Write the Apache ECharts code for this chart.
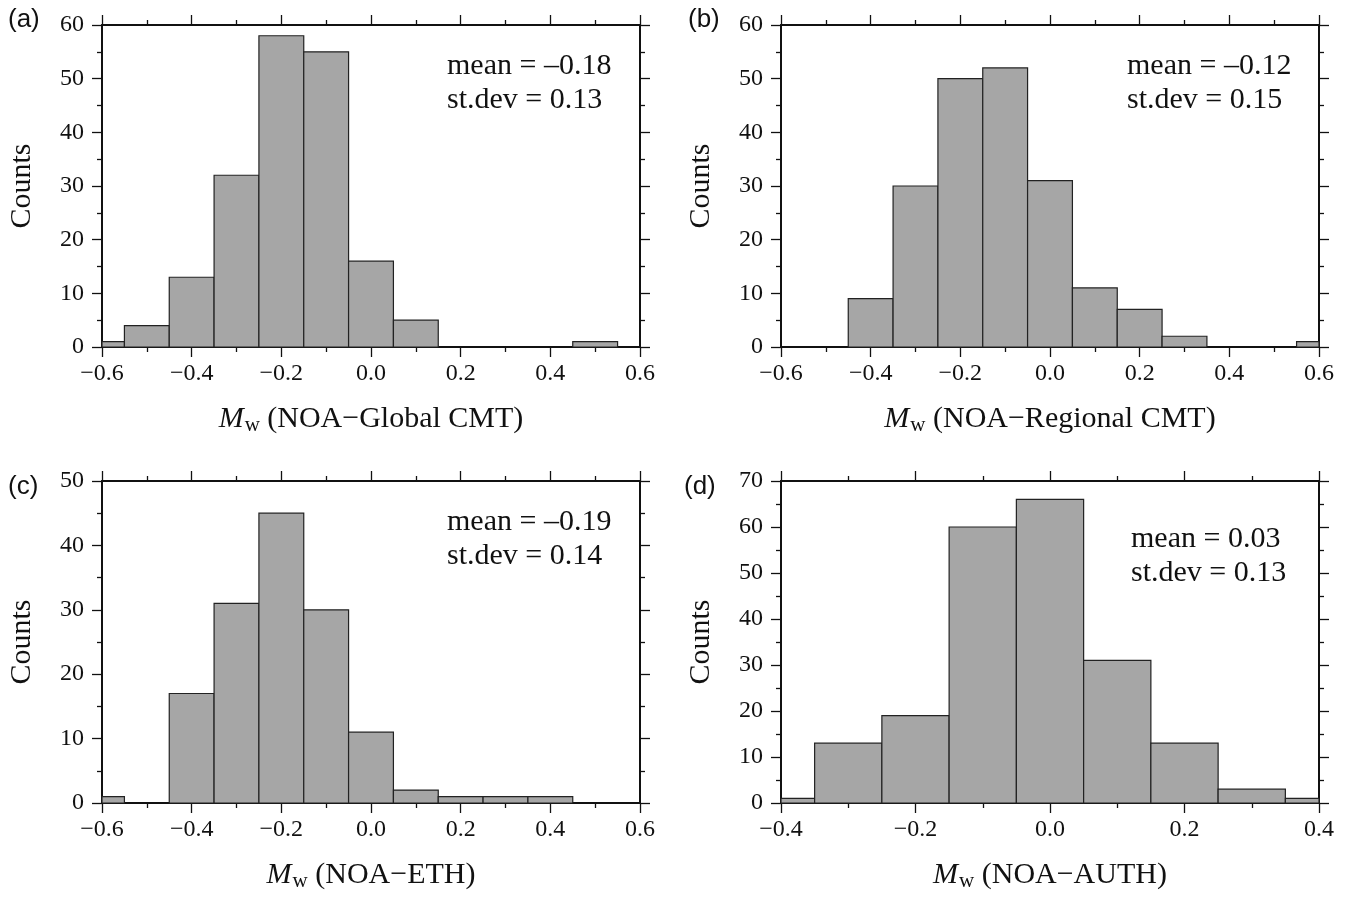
<!DOCTYPE html>
<html>
<head>
<meta charset="utf-8">
<script src="https://cdn.jsdelivr.net/npm/echarts@6/dist/echarts.min.js"></script>
<style>
html,body{margin:0;padding:0;background:#fff;}
#chart{width:1364px;height:905px;}
</style>
</head>
<body>
<div id="chart"></div>
<script>
// ---- data ----
const binsABC = [-0.6, -0.5, -0.4, -0.3, -0.2, -0.1, 0.0, 0.1, 0.2, 0.3, 0.4, 0.5, 0.6];
const countsA = [1, 4, 13, 32, 58, 55, 16, 5, 0, 0, 0, 1, 0];
const countsB = [0, 0, 9, 30, 50, 52, 31, 11, 7, 2, 0, 0, 1];
const countsC = [1, 0, 17, 31, 45, 30, 11, 2, 1, 1, 1, 0, 0];
const binsD = [-0.4, -0.3, -0.2, -0.1, 0.0, 0.1, 0.2, 0.3, 0.4];
const countsD = [1, 13, 19, 60, 66, 31, 13, 3, 1];
const binWidth = 0.1;

const panelLabels = ['(a)', '(b)', '(c)', '(d)'];
const xNames = ['NOA−Global CMT', 'NOA−Regional CMT', 'NOA−ETH', 'NOA−AUTH'];
const meanTexts = ['mean = –0.18', 'mean = –0.12', 'mean = –0.19', 'mean = 0.03'];
const sdTexts = ['st.dev = 0.13', 'st.dev = 0.15', 'st.dev = 0.14', 'st.dev = 0.13'];
const xMin = [-0.6, -0.6, -0.6, -0.4];
const xMax = [0.6, 0.6, 0.6, 0.4];
const xInterval = 0.2;
const yMax = [60, 60, 50, 70];
const yInterval = 10;
const yLabel = 'Counts';

const binsList = [binsABC, binsABC, binsABC, binsD];
const countsList = [countsA, countsB, countsC, countsD];

// ---- layout ----
const grids = [
  {left: 102, top: 25, width: 538, height: 322},
  {left: 781, top: 25, width: 538, height: 322},
  {left: 102, top: 481, width: 538, height: 322},
  {left: 781, top: 481, width: 538, height: 322}
];
const panelLabelPos = [[8, 22], [688, 22], [8, 489], [684, 489]];
const annoPos = [[447, 68], [1127, 68], [447, 524], [1131, 541]];

const SERIF = '"Liberation Serif", "DejaVu Serif", serif';
const SANS = '"Liberation Sans", Arial, sans-serif';
const TXT = '#111';

function fmtX(v) {
  if (Math.abs(v) < 1e-9) return '0.0';
  const s = v.toFixed(1);
  return s.replace('-', '−');
}

const xAxes = [], yAxes = [], series = [], graphics = [];
const lineStyle = {color: '#111', width: 2};

for (let i = 0; i < 4; i++) {
  const common = {
    gridIndex: i, type: 'value', min: xMin[i], max: xMax[i], interval: xInterval,
    axisLine: {show: true, onZero: false, lineStyle: lineStyle},
    axisTick: {show: true, inside: false, length: 10, lineStyle: {color: '#111', width: 1.3}},
    minorTick: {show: true, splitNumber: 2, length: 5, lineStyle: {color: '#111', width: 1.3}},
    splitLine: {show: false}, minorSplitLine: {show: false}
  };
  xAxes.push(Object.assign({}, common, {
    position: 'bottom',
    axisLabel: {show: true, margin: 15, formatter: fmtX, fontFamily: SERIF, fontSize: 24, color: TXT,
      showMinLabel: true, showMaxLabel: true},
    name: '{i|M}{s|w} (' + xNames[i] + ')',
    nameLocation: 'middle', nameGap: 55,
    nameTextStyle: {fontFamily: SERIF, fontSize: 30, color: TXT,
      rich: {
        i: {fontFamily: SERIF, fontStyle: 'italic', fontSize: 30, color: TXT},
        s: {fontFamily: SERIF, fontSize: 21, color: TXT, padding: [13, 0, 0, 1]}
      }}
  }));
  xAxes.push(Object.assign({}, common, {
    position: 'top', axisLabel: {show: false}
  }));
  const ycommon = {
    gridIndex: i, type: 'value', min: 0, max: yMax[i], interval: yInterval,
    axisLine: {show: true, onZero: false, lineStyle: lineStyle},
    axisTick: {show: true, inside: false, length: 10, lineStyle: {color: '#111', width: 1.3}},
    minorTick: {show: true, splitNumber: 2, length: 5, lineStyle: {color: '#111', width: 1.3}},
    splitLine: {show: false}, minorSplitLine: {show: false}
  };
  yAxes.push(Object.assign({}, ycommon, {
    position: 'left',
    axisLabel: {show: true, margin: 18, fontFamily: SERIF, fontSize: 24, color: TXT},
    name: yLabel, nameLocation: 'middle', nameGap: 65, nameRotate: 90,
    nameTextStyle: {fontFamily: SERIF, fontSize: 30, color: TXT}
  }));
  yAxes.push(Object.assign({}, ycommon, {
    position: 'right', axisLabel: {show: false}
  }));

  const data = binsList[i].map((c, k) => [c, countsList[i][k]]);
  const lo = xMin[i], hi = xMax[i];
  series.push({
    type: 'custom',
    xAxisIndex: 2 * i, yAxisIndex: 2 * i,
    data: data,
    z: 1,
    renderItem: function (params, api) {
      const c = api.value(0), n = api.value(1);
      if (!n) return null;
      const x0 = Math.max(lo, c - binWidth / 2), x1 = Math.min(hi, c + binWidth / 2);
      const p0 = api.coord([x0, n]);
      const p1 = api.coord([x1, 0]);
      return {
        type: 'rect',
        shape: {x: p0[0], y: p0[1], width: p1[0] - p0[0], height: p1[1] - p0[1]},
        style: {fill: '#a6a6a6', stroke: '#222', lineWidth: 1.2}
      };
    }
  });

  graphics.push({
    type: 'text', left: panelLabelPos[i][0], top: panelLabelPos[i][1] - 15,
    style: {text: panelLabels[i], font: '26px ' + SANS, fill: TXT}
  });
  graphics.push({
    type: 'text', left: annoPos[i][0], top: annoPos[i][1] - 17,
    style: {text: meanTexts[i], font: '30px ' + SERIF, fill: TXT}
  });
  graphics.push({
    type: 'text', left: annoPos[i][0], top: annoPos[i][1] + 34 - 17,
    style: {text: sdTexts[i], font: '30px ' + SERIF, fill: TXT}
  });
}

const chart = echarts.init(document.getElementById('chart'), null, {renderer: 'canvas'});
chart.setOption({
  animation: false,
  backgroundColor: '#fff',
  grid: grids,
  xAxis: xAxes,
  yAxis: yAxes,
  series: series,
  graphic: graphics
});
</script>
</body>
</html>
